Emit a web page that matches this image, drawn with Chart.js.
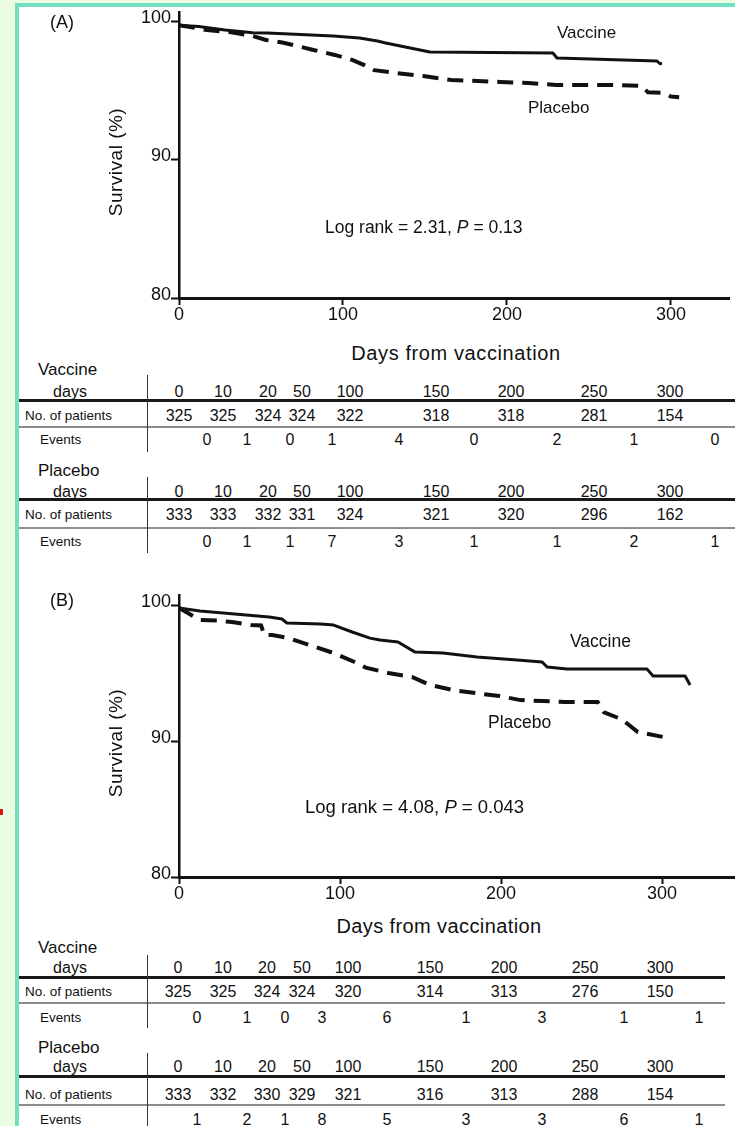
<!DOCTYPE html>
<html>
<head>
<meta charset="utf-8">
<script src="https://cdn.jsdelivr.net/npm/chart.js@4.4.1/dist/chart.umd.min.js"></script>
<style>
  html, body { margin: 0; padding: 0; }
  body {
    width: 735px; height: 1126px; position: relative; overflow: hidden;
    background: #ebfde3; color: #111;
    font-family: 'Liberation Sans', Arial, Helvetica, sans-serif;
  }
  #sheet {
    position: absolute; left: 15px; top: 3px; width: 720px; height: 1123px;
    background: #fff; box-sizing: border-box;
    border-left: 4px solid #72dfc3; border-top: 4px solid #72dfc3;
  }
  canvas { position: absolute; left: 0; }
  .t { position: absolute; white-space: nowrap; line-height: 1; z-index: 2; }
  .rule { position: absolute; z-index: 1; }
  #dot { position: absolute; left: 0; top: 809px; width: 3px; height: 6px; background: #e01010; }
</style>
</head>
<body>
<div id="sheet"></div>
<div id="dot"></div>
<canvas id="chartA" width="735" height="330" style="top:0px"></canvas>
<canvas id="chartB" width="735" height="345" style="top:560px"></canvas>
<script>
// ---- Kaplan–Meier curves, panel A (days, survival %) ----
const vaccineDaysA = [0, 12, 28, 45, 54, 94, 110, 121, 126, 147, 153, 228, 230.5, 291.5, 293, 294.5];
const vaccineSurvA = [99.7, 99.6, 99.35, 99.15, 99.13, 98.92, 98.77, 98.56, 98.41, 97.91, 97.76, 97.69, 97.33, 97.11, 96.95, 96.9];
const placeboDaysA = [0, 17, 31, 45, 53, 63, 82, 95, 106, 113, 119, 132, 149, 166, 182, 196, 213, 230, 266, 282, 286, 296, 300, 305];
const placeboSurvA = [99.7, 99.35, 99.2, 98.92, 98.63, 98.45, 97.91, 97.55, 97.18, 96.82, 96.45, 96.25, 96.03, 95.74, 95.67, 95.6, 95.52, 95.38, 95.38, 95.31, 94.85, 94.8, 94.55, 94.5];

// ---- Kaplan–Meier curves, panel B ----
const vaccineDaysB = [0, 13, 56, 64, 67, 88, 96, 108, 118.6, 124.8, 136, 146.6, 164, 185, 210, 225.5, 228.6, 241, 290.7, 294.4, 314.3, 317.4];
const vaccineSurvB = [99.78, 99.56, 99.12, 98.97, 98.68, 98.6, 98.53, 98.0, 97.57, 97.43, 97.28, 96.54, 96.47, 96.18, 95.96, 95.81, 95.44, 95.29, 95.29, 94.78, 94.78, 94.12];
const placeboDaysB = [0, 5, 13, 25, 33, 45, 51, 53, 58, 68, 81, 96, 109, 116, 130, 145, 156, 170, 184, 199, 212, 226, 240, 260, 264, 275, 285, 300.6];
const placeboSurvB = [99.78, 99.45, 98.9, 98.85, 98.75, 98.53, 98.5, 97.79, 97.79, 97.57, 97.06, 96.47, 95.81, 95.4, 95.0, 94.7, 94.12, 93.75, 93.53, 93.31, 93.01, 92.94, 92.87, 92.87, 92.1, 91.6, 90.66, 90.3];

// ---- axis ticks ----
const xTicks = [0, 100, 200, 300];
const yTicks = [80, 90, 100];

// ---- numbers-at-risk tables ----
const dayHeaders = [0, 10, 20, 50, 100, 150, 200, 250, 300];
const patientsVaccineA = [325, 325, 324, 324, 322, 318, 318, 281, 154];
const eventsVaccineA   = [0, 1, 0, 1, 4, 0, 2, 1, 0];
const patientsPlaceboA = [333, 333, 332, 331, 324, 321, 320, 296, 162];
const eventsPlaceboA   = [0, 1, 1, 7, 3, 1, 1, 2, 1];
const patientsVaccineB = [325, 325, 324, 324, 320, 314, 313, 276, 150];
const eventsVaccineB   = [0, 1, 0, 3, 6, 1, 3, 1, 1];
const patientsPlaceboB = [333, 332, 330, 329, 321, 316, 313, 288, 154];
const eventsPlaceboB   = [1, 2, 1, 8, 5, 3, 3, 6, 1];

const FONT = "'Liberation Sans', Arial, Helvetica, sans-serif";
const INK = '#111';

function pts(xs, ys) { return xs.map((x, i) => ({ x: x, y: ys[i] })); }

function kmChart(id, opt) {
  return new Chart(document.getElementById(id), {
    type: 'line',
    data: {
      datasets: [
        { label: 'Vaccine', data: pts(opt.vd, opt.vs), borderColor: INK, borderWidth: 3,
          pointRadius: 0, tension: 0, fill: false, borderJoinStyle: 'round' },
        { label: 'Placebo', data: pts(opt.pd, opt.ps), borderColor: INK, borderWidth: 4,
          borderDash: [16, 9], borderCapStyle: 'butt', pointRadius: 0, tension: 0, fill: false }
      ]
    },
    options: {
      responsive: false, animation: false, devicePixelRatio: 1,
      layout: { padding: { top: opt.padTop, left: 0, right: opt.padRight, bottom: 0 } },
      plugins: { legend: { display: false }, tooltip: { enabled: false } },
      scales: {
        x: {
          type: 'linear', min: 0, max: opt.xMax,
          border: { display: true, color: INK, width: 3 },
          grid: { display: true, drawOnChartArea: false, drawTicks: true, tickLength: 7, tickWidth: 2, tickColor: INK },
          ticks: { color: INK, font: { family: FONT, size: 18 }, padding: -1, maxRotation: 0, autoSkip: false },
          afterBuildTicks: s => { s.ticks = xTicks.map(v => ({ value: v })); },
          afterFit: s => { s.height = opt.xAxisH; }
        },
        y: {
          type: 'linear', min: 80, max: opt.yMax,
          border: { display: true, color: INK, width: 2.5 },
          grid: { display: true, drawOnChartArea: false, drawTicks: true, tickLength: 8, tickWidth: 2, tickColor: INK },
          ticks: { color: INK, font: { family: FONT, size: 18 }, padding: 0, labelOffset: -3 },
          afterBuildTicks: s => { s.ticks = yTicks.map(v => ({ value: v })); },
          afterFit: s => { s.width = 179; }
        }
      }
    }
  });
}

kmChart('chartA', { vd: vaccineDaysA, vs: vaccineSurvA, pd: placeboDaysA, ps: placeboSurvA,
  padTop: 12, padRight: 6, xMax: 335.4, yMax: 100.65, xAxisH: 32 });
kmChart('chartB', { vd: vaccineDaysB, vs: vaccineSurvB, pd: placeboDaysB, ps: placeboSurvB,
  padTop: 35, padRight: 0, xMax: 345.3, yMax: 100.74, xAxisH: 28 });

// ---- text and table drawing helpers ----
function text(html, x, y, size, align, extra) {
  const d = document.createElement('div');
  d.className = 't';
  d.innerHTML = html;
  d.style.fontSize = size + 'px';
  d.style.left = x + 'px';
  d.style.top = y + 'px';
  let tx = '0';
  if (align === 'center') tx = '-50%';
  if (align === 'right') tx = '-100%';
  d.style.transform = 'translate(' + tx + ',-50%)' + (extra && extra.rotate ? ' rotate(-90deg)' : '');
  if (extra && extra.spacing) d.style.letterSpacing = extra.spacing + 'px';
  document.body.appendChild(d);
  return d;
}
function rule(x, y, w, h, color) {
  const d = document.createElement('div');
  d.className = 'rule';
  Object.assign(d.style, { left: x + 'px', top: y + 'px', width: w + 'px', height: h + 'px', background: color });
  document.body.appendChild(d);
}

function riskGroup(name, patients, events, g, colX, evX, right) {
  text(name, 38, g.label, 17, 'left');
  text('days', 70, g.days, 16, 'center');
  dayHeaders.forEach((v, i) => text(String(v), colX[i], g.days, 16, 'center'));
  rule(19, g.thick - 1.5, right - 19, 3, '#1a1a1a');
  text('No. of patients', 25, g.pat, 13.5, 'left');
  patients.forEach((v, i) => text(String(v), colX[i], g.pat, 16, 'center'));
  rule(19, g.thin - 0.75, right - 19, 1.5, '#8c8c8c');
  text('Events', 40, g.ev, 13.5, 'left');
  events.forEach((v, i) => text(String(v), evX[i], g.ev, 16, 'center'));
  rule(146.5, g.vTop, 1.5, g.vBot - g.vTop, '#333');
}

// ---- panel A annotations ----
text('(A)', 62, 22, 18, 'center');
text('Vaccine', 557, 32, 17, 'left');
text('Placebo', 528, 107, 17, 'left');
text('Log rank = 2.31, <i>P</i> = 0.13', 325, 228, 17.5, 'left');
text('Survival (%)', 115, 162, 19, 'center', { rotate: true, spacing: 0.5 });
text('Days from vaccination', 456, 353, 20, 'center', { spacing: 0.6 });

const colXA = [179, 223, 268, 302, 350, 436, 511, 594, 670];
const evXA  = [207, 247, 290, 332, 399, 474, 557, 634, 715];
riskGroup('Vaccine', patientsVaccineA, eventsVaccineA,
  { label: 369, days: 392, thick: 400, pat: 416, thin: 427, ev: 440, vTop: 375, vBot: 452 }, colXA, evXA, 735);
riskGroup('Placebo', patientsPlaceboA, eventsPlaceboA,
  { label: 470, days: 492, thick: 499, pat: 515, thin: 528, ev: 542, vTop: 477, vBot: 553 }, colXA, evXA, 735);

// ---- panel B annotations ----
text('(B)', 62, 600, 18, 'center');
text('Vaccine', 570, 642, 17.5, 'left');
text('Placebo', 488, 723, 17.5, 'left');
text('Log rank = 4.08, <i>P</i> = 0.043', 305, 807, 18.5, 'left');
text('Survival (%)', 115, 743, 19, 'center', { rotate: true, spacing: 0.5 });
text('Days from vaccination', 439, 926, 20, 'center', { spacing: 0.4 });

const colXB = [178, 223, 267, 302, 348, 430, 504, 585, 660];
const evXB  = [197, 247, 285, 322, 387, 466, 542, 624, 699];
riskGroup('Vaccine', patientsVaccineB, eventsVaccineB,
  { label: 947, days: 968, thick: 977, pat: 992, thin: 1003, ev: 1018, vTop: 955, vBot: 1028 }, colXB, evXB, 725);
riskGroup('Placebo', patientsPlaceboB, eventsPlaceboB,
  { label: 1047, days: 1067, thick: 1076, pat: 1095, thin: 1105, ev: 1120, vTop: 1053, vBot: 1126 }, colXB, evXB, 725);
</script>
</body>
</html>
